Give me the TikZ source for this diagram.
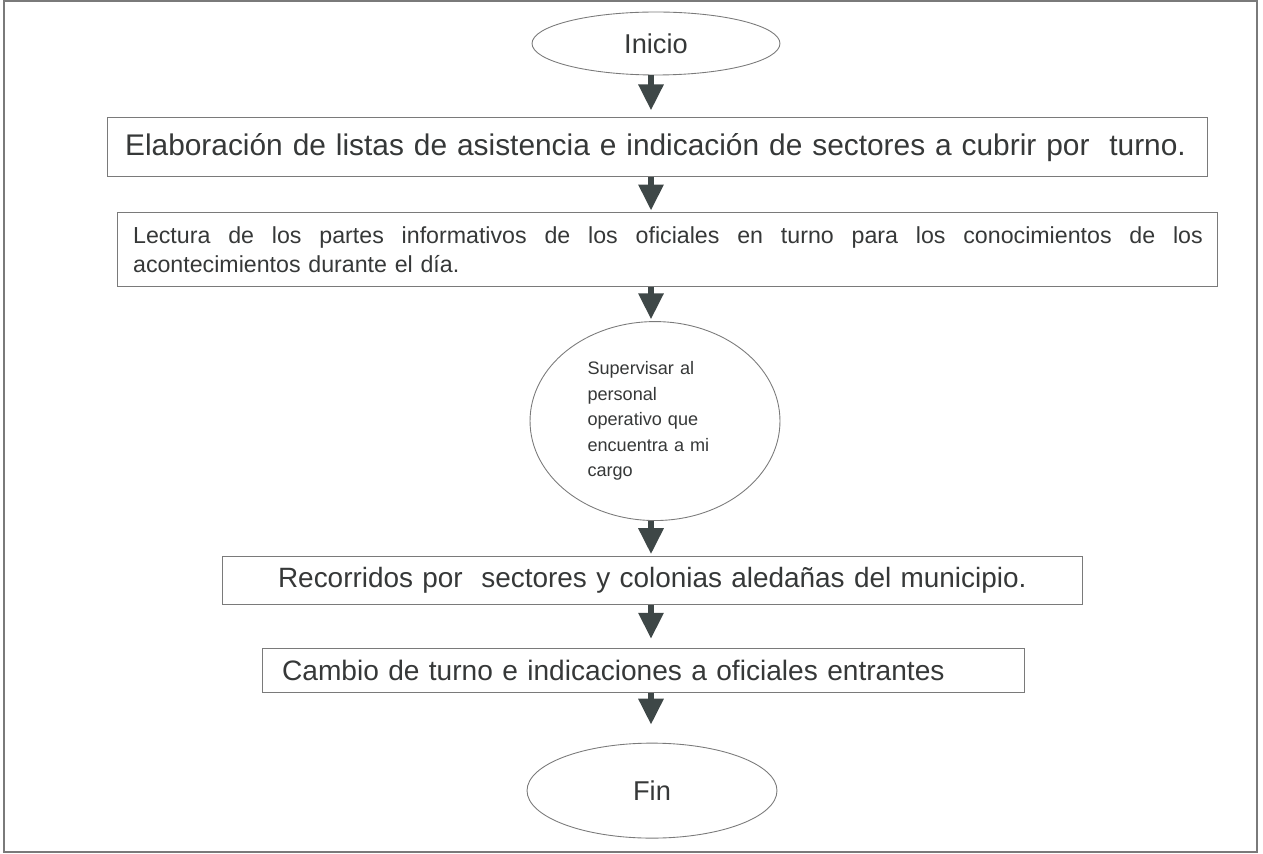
\documentclass[tikz,border=0pt]{standalone}
\usepackage{fontspec}
\setmainfont{Liberation Sans}
\usepackage{xcolor}
\usetikzlibrary{shapes.geometric, positioning, arrows.meta}
\definecolor{flechagris}{HTML}{3E4747}
\definecolor{bordegris}{HTML}{7A7A7A}
\definecolor{textogris}{HTML}{363838}

\begin{document}
\begin{tikzpicture}[x=0.02cm,y=-0.02cm,>={Triangle[width=0.48cm,length=0.52cm]},semithick,text=textogris,
    terminal/.style={ellipse, draw=bordegris, line width=0.5pt, inner sep=0pt, font=\fontsize{15.5}{18}\selectfont},
    proceso/.style={rectangle, draw=bordegris, line width=0.5pt, inner sep=0pt, align=left, font=\fontsize{16}{19}\selectfont},
    flecha/.style={->, draw=flechagris, line width=0.12cm, shorten >=1pt}]
      \useasboundingbox (0,0) rectangle (1263,854);
      \draw[bordegris, line width=0.6pt] (4,1) rectangle (1257,852);
      \coordinate (eje) at (651,0);

      \node[terminal, minimum width=4.96cm, minimum height=1.26cm] (inicio) at (656,43.5) {Inicio};
      \node[proceso, minimum height=1.18cm, text width=22.02cm, font=\fontsize{17}{20}\selectfont] (elab) [below=0.84cm of inicio, xshift=0.03cm]
            {\hspace*{0.36cm}Elaboración de listas de asistencia e indicación de sectores a cubrir por~ turno.};
      \node[proceso, minimum height=1.48cm, text width=22.02cm, font=\fontsize{13.2}{17}\selectfont] (lectura) [below=0.7cm of elab, xshift=0.2cm]
            {\hspace*{0.32cm}\makebox[21.4cm][s]{\spaceskip=0pt Lectura de los partes informativos de los oficiales en turno para los conocimientos de los}\\
             \hspace*{0.32cm}acontecimientos durante el día.};
      \node[terminal, minimum width=5cm, minimum height=3.98cm, text width=2.7cm, align=left, font=\fontsize{10.3}{14.5}\selectfont] (superv) [below=0.68cm of lectura, xshift=-0.25cm]
            {Supervisar al\\ personal\\ operativo que\\ encuentra a mi\\ cargo};
      \node[proceso, minimum height=0.96cm, text width=17.22cm, font=\fontsize{15.9}{19}\selectfont] (recorr) [below=0.7cm of superv, xshift=-0.05cm]
            {\hspace*{1.12cm}Recorridos por~ sectores y colonias aledañas del municipio.};
      \node[proceso, minimum height=0.88cm, text width=15.24cm] (cambio) [below=0.86cm of recorr, xshift=-0.19cm]
            {\hspace*{0.4cm}Cambio de turno e indicaciones a oficiales entrantes};
      \node[terminal, minimum width=5cm, minimum height=1.9cm] (fin) [below=1cm of cambio, xshift=0.18cm] {Fin};

      \draw[flecha, shorten >=0.14cm] (eje |- inicio.south) -- (eje |- elab.north);
      \draw[flecha] (eje |- elab.south) -- (eje |- lectura.north);
      \draw[flecha] (eje |- lectura.south) -- (eje |- superv.north);
      \draw[flecha] (eje |- superv.south) -- (eje |- recorr.north);
      \draw[flecha, shorten >=0.18cm] (eje |- recorr.south) -- (eje |- cambio.north);
      \draw[flecha, shorten >=0.36cm] (eje |- cambio.south) -- (eje |- fin.north);
    \end{tikzpicture}
\end{document}
